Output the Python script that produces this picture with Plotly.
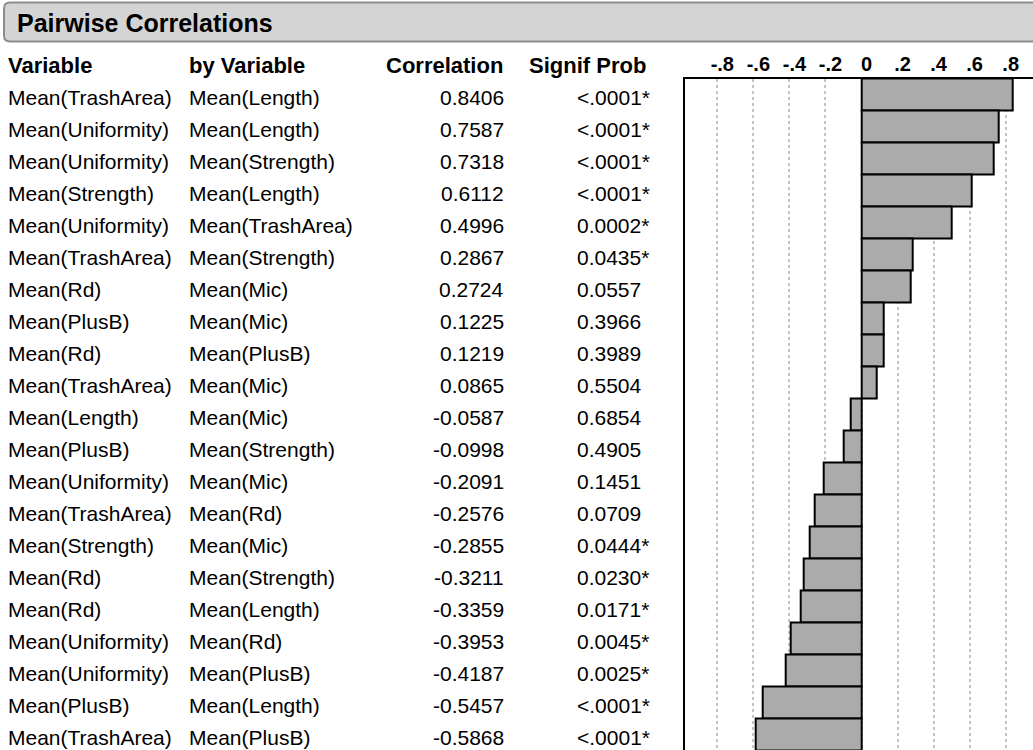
import plotly.graph_objects as go

variables = ["Mean(TrashArea)", "Mean(Uniformity)", "Mean(Uniformity)", "Mean(Strength)",
             "Mean(Uniformity)", "Mean(TrashArea)", "Mean(Rd)", "Mean(PlusB)", "Mean(Rd)",
             "Mean(TrashArea)", "Mean(Length)", "Mean(PlusB)", "Mean(Uniformity)",
             "Mean(TrashArea)", "Mean(Strength)", "Mean(Rd)", "Mean(Rd)", "Mean(Uniformity)",
             "Mean(Uniformity)", "Mean(PlusB)", "Mean(TrashArea)"]
by_variables = ["Mean(Length)", "Mean(Length)", "Mean(Strength)", "Mean(Length)",
                "Mean(TrashArea)", "Mean(Strength)", "Mean(Mic)", "Mean(Mic)", "Mean(PlusB)",
                "Mean(Mic)", "Mean(Mic)", "Mean(Strength)", "Mean(Mic)", "Mean(Rd)",
                "Mean(Mic)", "Mean(Strength)", "Mean(Length)", "Mean(Rd)", "Mean(PlusB)",
                "Mean(Length)", "Mean(PlusB)"]
correlations = [0.8406, 0.7587, 0.7318, 0.6112, 0.4996, 0.2867, 0.2724, 0.1225, 0.1219,
                0.0865, -0.0587, -0.0998, -0.2091, -0.2576, -0.2855, -0.3211, -0.3359,
                -0.3953, -0.4187, -0.5457, -0.5868]
signif_prob = ["<.0001*", "<.0001*", "<.0001*", "<.0001*", "0.0002*", "0.0435*", "0.0557",
               "0.3966", "0.3989", "0.5504", "0.6854", "0.4905", "0.1451", "0.0709",
               "0.0444*", "0.0230*", "0.0171*", "0.0045*", "0.0025*", "<.0001*", "<.0001*"]
tick_vals = [-0.8, -0.6, -0.4, -0.2, 0, 0.2, 0.4, 0.6, 0.8]
tick_text = ["-.8", "-.6", "-.4", "-.2", "0", ".2", ".4", ".6", ".8"]

W, H = 1033, 750
FONT = "Liberation Sans, Arial, sans-serif"


def px(x):
    return x / W


def py(y):
    return 1 - y / H


rows = list(range(len(correlations)))

fig = go.Figure()
fig.add_trace(go.Bar(
    x=correlations, y=rows, orientation="h", width=1,
    marker=dict(color="#ababab", line=dict(color="black", width=2)),
    hoverinfo="x", showlegend=False,
))

# header bar (rounded rectangle)
x0, x1, y0, y1, r = 4, 1045, 2.5, 41.5, 6
path = (f"M {px(x0+r)},{py(y0)} L {px(x1-r)},{py(y0)} "
        f"Q {px(x1)},{py(y0)} {px(x1)},{py(y0+r)} L {px(x1)},{py(y1-r)} "
        f"Q {px(x1)},{py(y1)} {px(x1-r)},{py(y1)} L {px(x0+r)},{py(y1)} "
        f"Q {px(x0)},{py(y1)} {px(x0)},{py(y1-r)} L {px(x0)},{py(y0+r)} "
        f"Q {px(x0)},{py(y0)} {px(x0+r)},{py(y0)} Z")
fig.add_shape(type="path", path=path, xref="paper", yref="paper",
              fillcolor="#d4d4d4", line=dict(color="#8c8c8c", width=2), layer="below")

HDR = dict(size=22, family=FONT, color="black")
annotations = [
    dict(text="<b>Pairwise Correlations</b>", x=px(15), y=py(23), xanchor="left",
         yanchor="middle", font=dict(size=25, family=FONT, color="black")),
    dict(text="<b>Variable</b>", x=px(6), y=py(66), xanchor="left", yanchor="middle", font=HDR),
    dict(text="<b>by Variable</b>", x=px(187), y=py(66), xanchor="left", yanchor="middle", font=HDR),
    dict(text="<b>Correlation</b>", x=px(505), y=py(66), xanchor="right", yanchor="middle", font=HDR),
    dict(text="<b>Signif Prob</b>", x=px(648), y=py(66), xanchor="right", yanchor="middle", font=HDR),
]
for i in rows:
    common = dict(yref="y", y=i, yanchor="middle", xref="paper", yshift=-3, showarrow=False,
                  font=dict(size=21, family=FONT, color="black"))
    annotations.append(dict(text=variables[i], x=px(6), xanchor="left", **common))
    annotations.append(dict(text=by_variables[i], x=px(187), xanchor="left", **common))
    annotations.append(dict(text=f"{correlations[i]:.4f}", x=px(506), xanchor="right", **common))
    annotations.append(dict(text=signif_prob[i], x=px(575), xanchor="left", **common))

for a in annotations:
    a.setdefault("showarrow", False)
    a.setdefault("xref", "paper")
    a.setdefault("yref", "paper")

zero_px = 861.5
scale = 180.25
left_px = 684.7
x_range = [(left_px - zero_px) / scale, (W - zero_px) / scale]

fig.update_layout(
    width=W, height=H,
    margin=dict(l=0, r=0, t=0, b=0),
    paper_bgcolor="white", plot_bgcolor="white",
    bargap=0,
    font=dict(family=FONT, color="black"),
    annotations=annotations,
    xaxis=dict(
        domain=[px(left_px), 1], range=x_range, side="top",
        tickvals=tick_vals, ticktext=tick_text, ticks="",
        tickfont=dict(size=20, family=FONT, color="black", weight="bold"),
        ticklabelshift=5, ticklabelstandoff=-2,
        showgrid=True, gridcolor="#c4c4c4", griddash="dot", gridwidth=1.5,
        zeroline=False, showline=True, linecolor="black", linewidth=2,
        fixedrange=True,
    ),
    yaxis=dict(
        domain=[0, py(78.5)], range=[len(rows) - 0.5, -0.5],
        showticklabels=False, ticks="", showgrid=False, zeroline=False,
        showline=True, linecolor="black", linewidth=2, fixedrange=True,
    ),
)

fig.write_html("out.html", post_script="document.body.style.margin='0';",
               config={"displayModeBar": False})
